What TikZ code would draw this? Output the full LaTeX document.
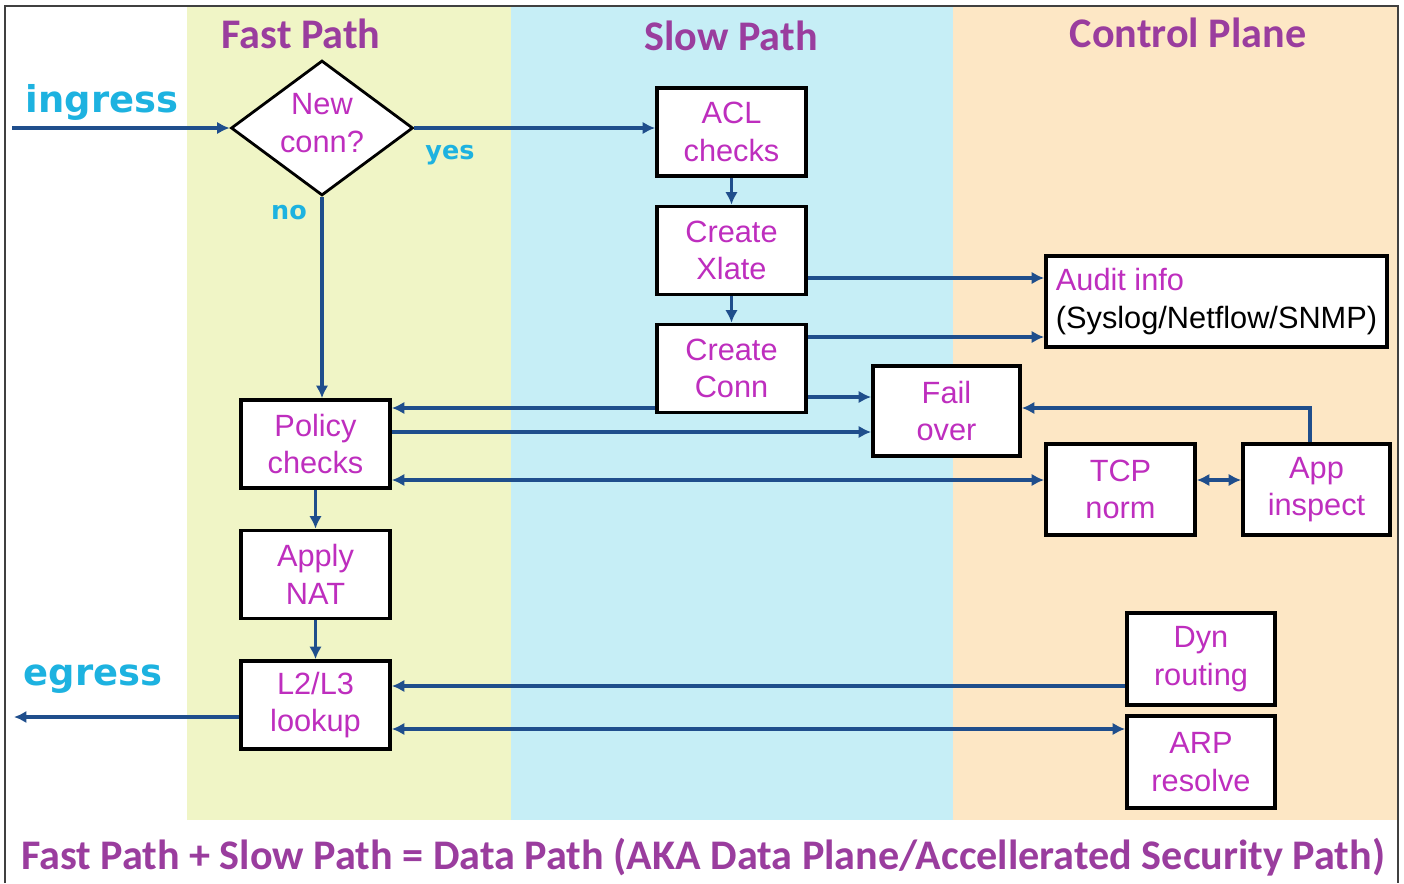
\documentclass[tikz,border=0pt]{standalone}
\usepackage{fontspec}
\setmainfont{Liberation Sans}
\newfontfamily\headfont{Carlito}
\newfontfamily\cuefont{DejaVu Sans}
\usetikzlibrary{shapes.geometric, arrows.meta, positioning, calc}

\definecolor{fastbg}{HTML}{F0F5C6}
\definecolor{slowbg}{HTML}{C6EEF6}
\definecolor{ctrlbg}{HTML}{FDE7C5}
\definecolor{flowblue}{HTML}{1F4E8C}
\definecolor{boxtext}{HTML}{BE2EBE}
\definecolor{headpurple}{HTML}{9A3D9E}
\definecolor{cuecyan}{HTML}{1DB2E0}

\begin{document}
\begin{tikzpicture}[x=0.02cm, y=-0.02cm]
  \tikzset{
    stage/.style={draw=black, line width=2.1pt, fill=white, text=boxtext, align=center,
      minimum width=2.98cm, minimum height=1.76cm, inner sep=1pt,
      font=\fontsize{17.5}{21.5}\selectfont},
    decision/.style={diamond, draw=black, line width=1.6pt, fill=white, text=boxtext,
      align=center, aspect=1.35, inner sep=0pt, text depth=6pt,
      minimum width=3.64cm, minimum height=2.7cm,
      font=\fontsize{17.5}{21.5}\selectfont},
    flow/.style={-{Latex[length=2.5mm, width=2.5mm]}, line width=2pt, draw=flowblue},
    biflow/.style={{Latex[length=2.5mm, width=2.5mm]}-{Latex[length=2.5mm, width=2.5mm]},
      line width=2pt, draw=flowblue},
    heading/.style={text=headpurple, font=\headfont\bfseries\fontsize{24}{28}\selectfont},
    cue/.style={text=cuecyan, font=\cuefont\bfseries\fontsize{21}{24}\selectfont},
    smallcue/.style={text=cuecyan, font=\cuefont\bfseries\fontsize{14.5}{17}\selectfont}
  }

  \useasboundingbox (0,0) rectangle (1404,883);

  % Background bands for the three planes
  \fill[fastbg] (187,6) rectangle (511,820);
  \fill[slowbg] (511,6) rectangle (953,820);
  \fill[ctrlbg] (953,6) rectangle (1398,820);
  \draw[line width=1.1pt, draw=black!75] (5,883) -- (5,6) -- (1398,6) -- (1398,883);

  % Band headings
  \node[heading] (fasthead) at (301,34) {Fast Path};
  \node[heading] (slowhead) at (731,36) {Slow Path};
  \node[heading] (ctrlhead) at (1188,33) {Control Plane};

  % Fast path stages
  \node[decision] (newconn) at (322,128) {New\\conn?};
  \node[stage] (policy) at (315.5,444) {Policy\\checks};
  \node[stage] (nat) at (315.5,574.5) {Apply\\NAT};
  \node[stage] (lookup) at (315.5,705) {L2/L3\\lookup};

  % Slow path stages
  \node[stage] (acl) at (731.5,132) {ACL\\checks};
  \node[stage] (xlate) at (731.5,250.5) {Create\\Xlate};
  \node[stage] (conn) at (731.5,368.5) {Create\\Conn};
  \node[stage, minimum width=2.94cm, minimum height=1.8cm] (failover) at (946.5,411) {Fail\\over};

  % Control plane stages
  \node[stage, minimum width=6.82cm, minimum height=1.82cm, align=left] (audit) at (1216.5,301.5)
    {Audit info\\\textcolor{black}{(Syslog/Netflow/SNMP)}};
  \node[stage, minimum height=1.82cm] (tcpnorm) at (1120.5,489.5) {TCP\\norm};
  \node[stage, minimum width=2.94cm, minimum height=1.82cm] (appinsp) at (1316.5,489.5) {App\\inspect};
  \node[stage, minimum width=2.96cm, minimum height=1.84cm] (dynroute) at (1201,659) {Dyn\\routing};
  \node[stage, minimum width=2.96cm, minimum height=1.84cm] (arp) at (1201,762) {ARP\\resolve};

  % Ingress / egress ends
  \coordinate (ingressend) at (12,128);
  \coordinate (egressend) at (14,717);
  \node[cue] (ingress) at (102,102) {ingress};
  \node[cue] (egress) at (93,679) {egress};
  \node[smallcue] (yes) at (450,155) {yes};
  \node[smallcue] (no) at (289,213) {no};

  % Decision branches
  \draw[flow] (ingressend) -- (newconn.west);
  \draw[flow] (newconn.east) -- (acl.west |- newconn.east);
  \draw[flow] (newconn.south) -- (newconn.south |- policy.north);

  % Slow path chain
  \draw[flow] (acl) -- (xlate);
  \draw[flow] (xlate) -- (conn);
  \draw[flow] (xlate.east |- 0,278) -- (audit.west |- 0,278);
  \draw[flow] (conn.east |- 0,337) -- (audit.west |- 0,337);
  \draw[flow] (conn.east |- 0,397) -- (failover.west |- 0,397);
  \draw[flow] (conn.west |- 0,408) -- (policy.east |- 0,408);

  % Policy checks to other planes
  \draw[flow] (policy.east |- 0,432) -- (failover.west |- 0,432);
  \draw[biflow] (policy.east |- 0,480) -- (tcpnorm.west |- 0,480);
  \draw[biflow] (tcpnorm.east |- 0,480) -- (appinsp.west |- 0,480);
  \draw[flow] (appinsp.north -| 1310,0) |- (failover.east |- 0,408);

  % Fast path chain to egress
  \draw[flow] (policy) -- (nat);
  \draw[flow] (nat) -- (lookup);
  \draw[flow] (lookup.west |- egressend) -- (egressend);
  \draw[flow] (dynroute.west |- 0,686) -- (lookup.east |- 0,686);
  \draw[biflow] (lookup.east |- 0,729) -- (arp.west |- 0,729);

  % Summary line
  \node[heading] (summary) at (703,857)
    {Fast Path + Slow Path = Data Path (AKA Data Plane/Accellerated Security Path)};
\end{tikzpicture}
\end{document}
